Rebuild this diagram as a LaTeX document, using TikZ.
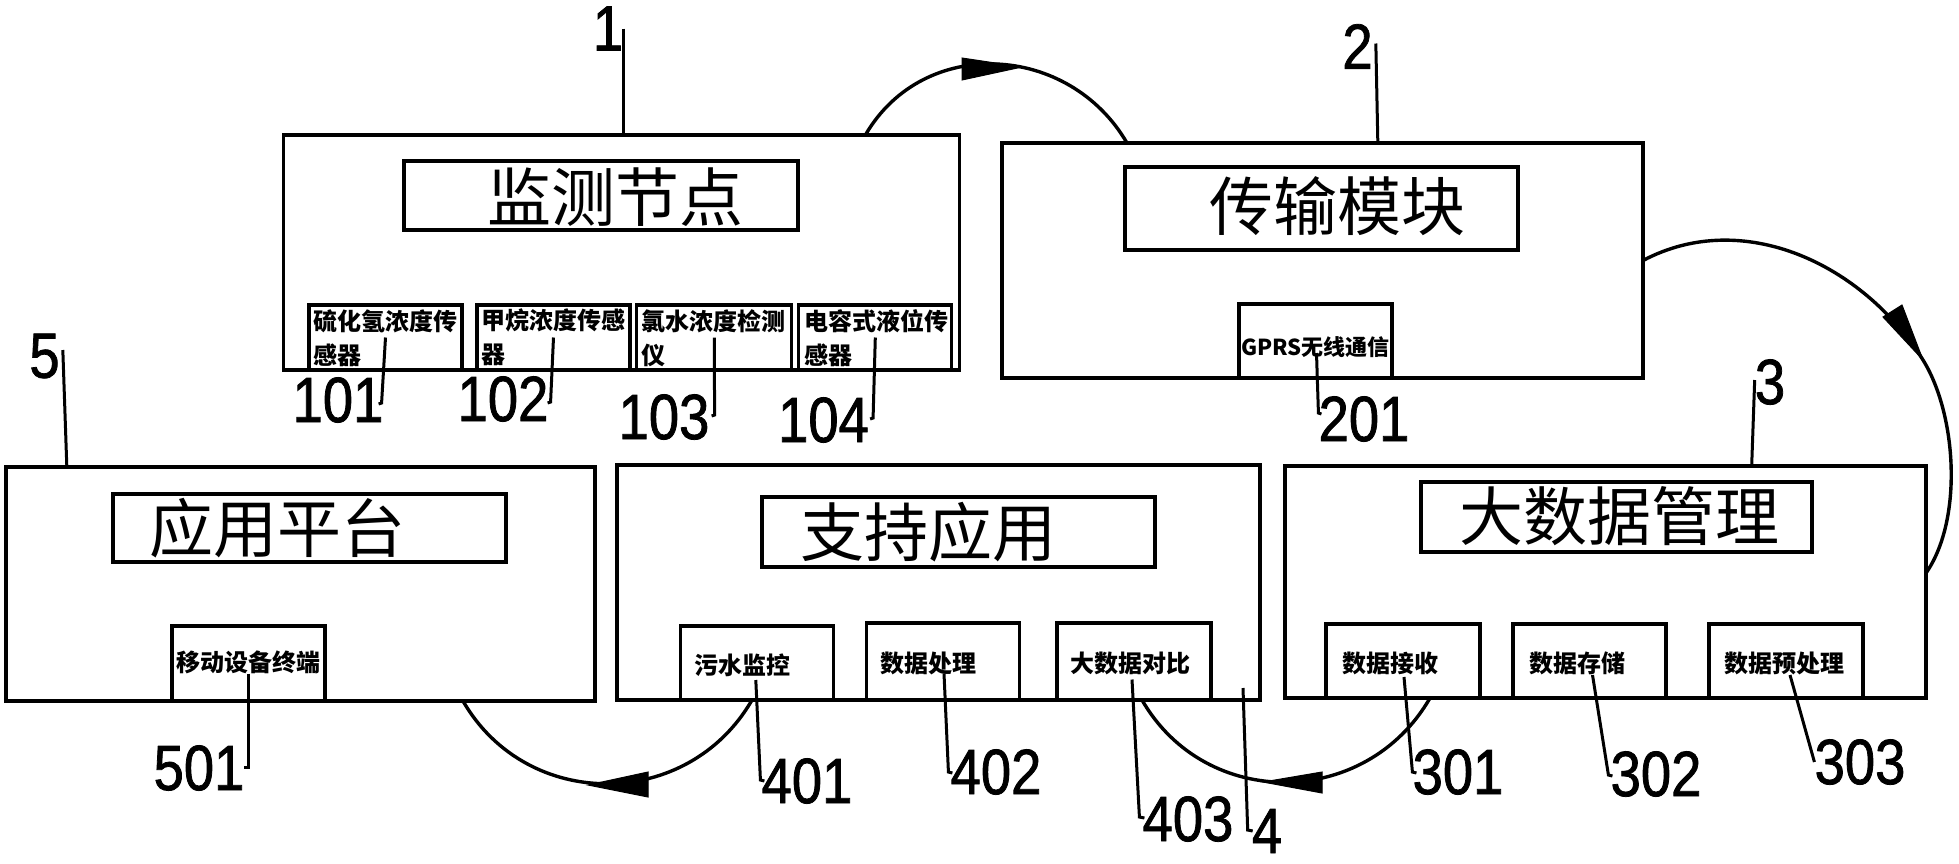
\documentclass[tikz,border=0pt]{standalone}
\usepackage{fontspec}
\usetikzlibrary{calc}
\newfontfamily\cjk{Noto Sans CJK SC}
\newfontfamily\numf[FakeStretch=0.85,FakeBold=1.2]{Liberation Sans}
\begin{document}
\begin{tikzpicture}[x=1pt,y=-1pt,
  frame/.style 2 args={draw,line width=3.6pt,minimum width=#1,minimum height=#2,inner sep=0pt,outer sep=0pt},
  tbox/.style 2 args={draw,line width=3.4pt,minimum width=#1,minimum height=#2,inner sep=0pt,outer sep=0pt},
  sbox/.style 2 args={draw,line width=3.2pt,minimum width=#1,minimum height=#2,inner sep=0pt,outer sep=0pt},
  ttext/.style={inner sep=0pt,font=\cjk\fontsize{64}{64}\selectfont},
  stext/.style={inner sep=0pt,font=\cjk\bfseries\fontsize{24}{34}\selectfont},
  num/.style={inner sep=0pt,font=\numf\fontsize{64}{64}\selectfont},
  lead/.style={line width=3pt},
  flow/.style={line width=3.4pt},
  head/.style={fill=black,draw=black,line width=1pt,line join=miter},
]
\useasboundingbox[fill=white] (0,0) rectangle (1959,863);

% main frames
\node[frame={676pt}{235pt}] (b1) at (621.4,252.5) {};
\node[frame={641pt}{235pt}] (b2) at (1322.5,260.5) {};
\node[frame={641pt}{232pt}] (b3) at (1605.5,582) {};
\node[frame={643pt}{235pt}] (b4) at (938.5,582.5) {};
\node[frame={589pt}{234pt}] (b5) at (300.5,584) {};

% title boxes
\node[tbox={394pt}{69pt}] (t1) at (601,195.5) {};
\node[ttext] (tt1) at (615,197) {监测节点};
\node[tbox={393pt}{83pt}] (t2) at (1321.5,208.5) {};
\node[ttext] (tt2) at (1337.5,206) {传输模块};
\node[tbox={391pt}{70pt}] (t3) at (1616.5,517) {};
\node[ttext] (tt3) at (1619.5,516.5) {大数据管理};
\node[tbox={393pt}{70pt}] (t4) at (958.5,532) {};
\node[ttext] (tt4) at (928,532) {支持应用};
\node[tbox={393pt}{68pt}] (t5) at (309.5,528) {};
\node[ttext] (tt5) at (277.5,528.5) {应用平台};

% sub boxes
\node[sbox={153pt}{65pt}] (s101) at (385.5,337.5) {};
\node[sbox={153pt}{65pt}] (s102) at (553.5,337.5) {};
\node[sbox={155pt}{65pt}] (s103) at (714.3,337.5) {};
\node[sbox={153pt}{65pt}] (s104) at (875.3,337.5) {};
\node[sbox={153pt}{74pt}] (s201) at (1315.5,341) {};
\node[sbox={154pt}{74pt}] (s301) at (1403,661) {};
\node[sbox={153pt}{74pt}] (s302) at (1589.5,661) {};
\node[sbox={154pt}{74pt}] (s303) at (1786,661) {};
\node[sbox={153pt}{74pt}] (s401) at (756.8,663) {};
\node[sbox={153pt}{77pt}] (s402) at (943,661.5) {};
\node[sbox={154pt}{77pt}] (s403) at (1134,661.5) {};
\node[sbox={153pt}{75pt}] (s501) at (248.5,663.5) {};

% sub box texts
\node[stext,anchor=north west,align=left] (x101) at ($(s101.north west)+(4,4)$) {硫化氢浓度传\\感器};
\node[stext,anchor=north west,align=left] (x102) at ($(s102.north west)+(4,4)$) {甲烷浓度传感\\器};
\node[stext,anchor=north west,align=left] (x103) at ($(s103.north west)+(4,4)$) {氯水浓度检测\\仪};
\node[stext,anchor=north west,align=left] (x104) at ($(s104.north west)+(5,4)$) {电容式液位传\\感器};
\node[stext,font=\cjk\bfseries\fontsize{22}{26}\selectfont] (x201) at ($(s201.center)+(0,6)$) {GPRS无线通信};
\node[stext,anchor=west] (x301) at ($(s301.west)+(16,2)$) {数据接收};
\node[stext,anchor=west] (x302) at ($(s302.west)+(16,2)$) {数据存储};
\node[stext,anchor=west] (x303) at ($(s303.west)+(15,2)$) {数据预处理};
\node[stext,anchor=west] (x401) at ($(s401.west)+(14,2)$) {污水监控};
\node[stext,anchor=west] (x402) at ($(s402.west)+(14,2)$) {数据处理};
\node[stext,anchor=west] (x403) at ($(s403.west)+(13,2)$) {大数据对比};
\node[stext,anchor=west] (x501) at ($(s501.west)+(4,-1)$) {移动设备终端};

% reference numerals
\node[num] (n1) at (608,28.5) {1};
\node[num] (n2) at (1357.5,46.5) {2};
\node[num] (n3) at (1770,382) {3};
\node[num] (n4) at (1267,831) {4};
\node[num] (n5) at (44.5,356) {5};
\node[num] (n101) at (338,400) {101};
\node[num] (n102) at (503,399) {102};
\node[num] (n103) at (664,417) {103};
\node[num] (n104) at (823.5,420) {104};
\node[num] (n201) at (1364,419) {201};
\node[num] (n301) at (1458,772) {301};
\node[num] (n302) at (1656,774) {302};
\node[num] (n303) at (1860,762) {303};
\node[num] (n401) at (807,781) {401};
\node[num] (n402) at (996,772) {402};
\node[num] (n403) at (1188,819) {403};
\node[num] (n501) at (199,768) {501};

% leader lines
\draw[lead] (n1.east) -- (n1.east |- b1.north);
\draw[lead] ($(n2.east)+(3,-3)$) -- ($(n2.east |- b2.north)+(5,0)$);
\draw[lead] ($(n3.west)+(0,-2)$) -- ($(n3.west |- b3.north)+(-3,0)$);
\draw[lead] ($(n5.east)+(3,-6)$) -- ($(n5.east |- b5.north)+(7,0)$);
\draw[lead] (s101.center) -- ($(n101.east)+(-2,3)$) -- ++(-3,1);
\draw[lead] (s102.center) -- ($(n102.east)+(2,3)$) -- ++(-3,1);
\draw[lead] (s103.center) -- ($(n103.east)+(5,-2)$) -- ++(-3,1);
\draw[lead] (s104.center) -- ($(n104.east)+(4,-2)$) -- ++(-3,1);
\draw[lead] ($(s201.center)+(1,12)$) -- ($(n201.west)+(0,-6)$) -- ++(3,1);
\draw[lead] ($(s301.center)+(1,16)$) -- (n301.west) -- ++(4,1);
\draw[lead] ($(s302.center)+(3,14)$) -- ($(n302.west)+(-2,1)$) -- ++(4,1);
\draw[lead] ($(s303.center)+(4,14)$) -- (n303.west);
\draw[lead] ($(s401.center)+(-1,17)$) -- ($(n401.west)+(-1,-1)$) -- ++(4,1);
\draw[lead] ($(s402.center)+(1,12)$) -- ($(n402.west)+(-2,0)$) -- ++(4,1);
\draw[lead] ($(s403.center)+(-2,18)$) -- ($(n403.west)+(-3,-2)$) -- ++(5,1);
\draw[lead] ($(b4.south east)+(-17,-12)$) -- ($(n4.west)+(-4,-1)$) -- ++(5,1);
\draw[lead] ($(s501.center)+(0,10)$) -- ($(s501.center |- n501.east)+(0,-1)$) -- ($(n501.east)+(-1,-1)$);

% flow arcs
\coordinate (m23) at (1923,360);
\draw[flow] ($(b1.north east)+(-94,0)$) .. controls +(58,-100) and +(-58,-100) .. ($(b2.north west)+(125,0)$);
\draw[flow] (b2.east) .. controls +(100,-53) and +(-60,-96) .. (m23)
  .. controls +(34,55) and +(37,-53) .. ($(b3.east)+(0,-9)$);
\draw[flow] ($(b3.south west)+(145,0)$) .. controls +(-64,111) and +(64,111) .. ($(b4.south east)+(-118,0)$);
\draw[flow] ($(b4.south west)+(135,0)$) .. controls +(-64,111) and +(64,111) .. ($(b5.south east)+(-132,0)$);

% arrowheads
\filldraw[head] (1022,67) -- (962,58) -- (962,80) -- cycle;
\filldraw[head] (m23) -- (1883,317) -- (1902,305) -- cycle;
\filldraw[head] (1263,782) -- (1322,772) -- (1322,793) -- cycle;
\filldraw[head] (588,785) -- (648,772) -- (648,797) -- cycle;
\end{tikzpicture}
\end{document}
